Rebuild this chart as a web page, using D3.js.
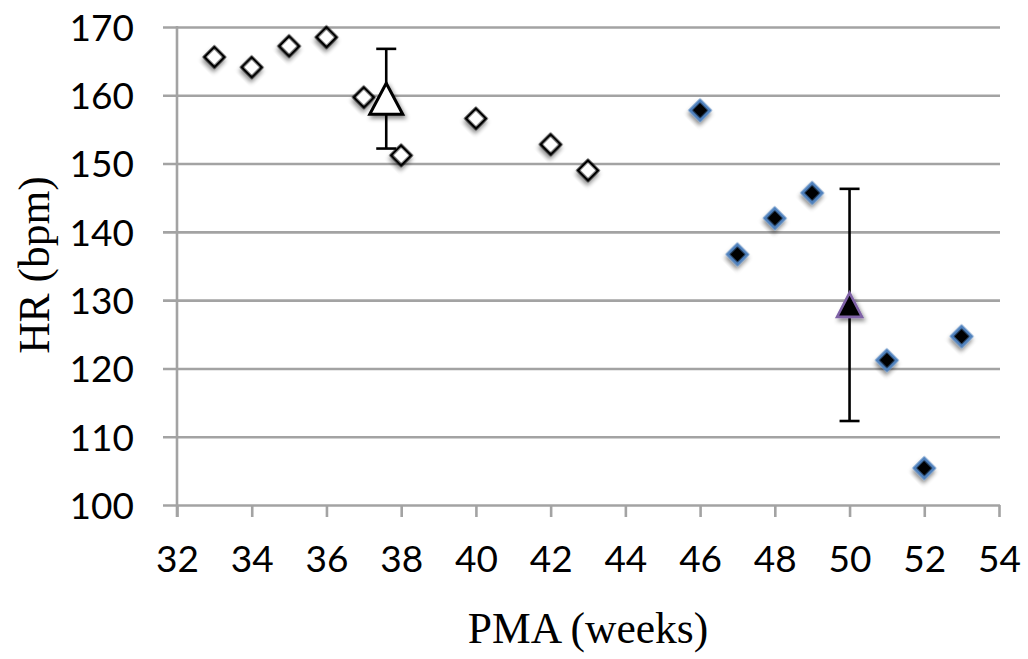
<!DOCTYPE html>
<html>
<head>
<meta charset="utf-8">
<script src="https://cdn.jsdelivr.net/npm/d3@7.9.0/dist/d3.min.js"></script>
<style>
  body { margin: 0; background: #fff; }
  svg { display: block; }
  .tick text { font-family: Lato, "Open Sans", sans-serif; font-size: 37px; fill: #000; }
  .title { font-family: "Liberation Serif", "Times New Roman", serif; font-size: 43.5px; fill: #000; }
</style>
</head>
<body>
<svg width="1028" height="659"></svg>
<script>
// data
const xTicks = [32, 34, 36, 38, 40, 42, 44, 46, 48, 50, 52, 54];
const yTicks = [100, 110, 120, 130, 140, 150, 160, 170];

// before (open diamonds)
const preX = [33, 34, 35, 36, 37, 38, 40, 42, 43];
const preHR = [165.6, 164.1, 167.2, 168.5, 159.7, 151.2, 156.6, 152.8, 149.0];
// after (filled diamonds)
const postX = [46, 47, 48, 49, 51, 52, 53];
const postHR = [157.8, 136.7, 142.0, 145.7, 121.2, 105.4, 124.7];
// group means +- sd (triangles)
const meanX = [37.6, 50];
const meanHR = [159.5, 129.3];
const meanSD = [7.3, 17.0];

const margin = { top: 27, right: 29, bottom: 154, left: 177 };
const svg = d3.select('svg');
const W = +svg.attr('width') - margin.left - margin.right;
const H = +svg.attr('height') - margin.top - margin.bottom;

const x = d3.scaleLinear().domain([32, 54]).range([0, W]);
const y = d3.scaleLinear().domain([100, 170]).range([H, 0]);

// soft shadow under markers
const defs = svg.append('defs');
defs.append('filter').attr('id', 'shadow')
  .attr('x', '-50%').attr('y', '-50%').attr('width', '200%').attr('height', '200%')
  .append('feDropShadow')
  .attr('dx', 2).attr('dy', 3).attr('stdDeviation', 2)
  .attr('flood-color', '#000').attr('flood-opacity', 0.45);

const g = svg.append('g').attr('transform', `translate(${margin.left},${margin.top})`);

// y axis + gridlines
const yAxis = g.append('g').call(d3.axisLeft(y).tickValues(yTicks).tickSize(0));
yAxis.select('.domain').remove();
yAxis.selectAll('.tick line')
  .attr('x1', -14).attr('x2', W + 1)
  .attr('stroke', '#a3a3a3').attr('stroke-width', 2.6);
yAxis.selectAll('.tick text').attr('x', -43).attr('dy', '0.36em');

// x axis
const xAxis = g.append('g').attr('transform', `translate(0,${H})`)
  .call(d3.axisBottom(x).tickValues(xTicks).tickSize(12));
xAxis.select('.domain').remove();
xAxis.selectAll('.tick line').attr('stroke', '#a3a3a3').attr('stroke-width', 2.6);
xAxis.selectAll('.tick text').attr('y', 41).attr('dy', '0.71em');

// vertical axis line
g.append('line')
  .attr('x1', 0).attr('x2', 0).attr('y1', -1).attr('y2', H + 12)
  .attr('stroke', '#a3a3a3').attr('stroke-width', 2.6);

// titles
svg.append('text').attr('class', 'title')
  .attr('x', margin.left + 411).attr('y', 643)
  .attr('text-anchor', 'middle').text('PMA (weeks)');
svg.append('text').attr('class', 'title')
  .attr('transform', 'translate(49,265) rotate(-90)')
  .attr('text-anchor', 'middle').text('HR (bpm)');

// diamonds: rotated squares
const diamond = d3.symbol().type(d3.symbolSquare).size(200)();

g.selectAll('.pre').data(preX).join('path')
  .attr('class', 'pre')
  .attr('d', diamond)
  .attr('transform', (d, i) => `translate(${x(d)},${y(preHR[i])}) rotate(45)`)
  .attr('fill', '#fff').attr('stroke', '#000').attr('stroke-width', 3)
  .attr('filter', 'url(#shadow)');

g.selectAll('.post').data(postX).join('path')
  .attr('class', 'post')
  .attr('d', diamond)
  .attr('transform', (d, i) => `translate(${x(d)},${y(postHR[i])}) rotate(45)`)
  .attr('fill', '#000').attr('stroke', '#4f81bd').attr('stroke-width', 3)
  .attr('filter', 'url(#shadow)');

// error bars
const cap = 10;
meanX.forEach((mx, i) => {
  const top = y(meanHR[i] + meanSD[i]);
  const bot = y(meanHR[i] - meanSD[i]);
  const eb = g.append('g').attr('stroke', '#000').attr('stroke-width', 2.6);
  eb.append('line').attr('x1', x(mx)).attr('x2', x(mx)).attr('y1', top).attr('y2', bot);
  eb.append('line').attr('x1', x(mx) - cap).attr('x2', x(mx) + cap).attr('y1', top).attr('y2', top);
  eb.append('line').attr('x1', x(mx) - cap).attr('x2', x(mx) + cap).attr('y1', bot).attr('y2', bot);
});

// triangles centred on their bounding box
function tri(w, h) {
  return `M0,${-h / 2}L${w / 2},${h / 2}L${-w / 2},${h / 2}Z`;
}
const triStyle = [
  { w: 33, h: 31, fill: '#fff', stroke: '#000', sw: 3 },
  { w: 25, h: 24, fill: '#000', stroke: '#7f62a6', sw: 2.6 }
];
g.selectAll('.mean').data(meanX).join('path')
  .attr('class', 'mean')
  .attr('d', (d, i) => tri(triStyle[i].w, triStyle[i].h))
  .attr('transform', (d, i) => `translate(${x(d)},${y(meanHR[i])})`)
  .attr('fill', (d, i) => triStyle[i].fill)
  .attr('stroke', (d, i) => triStyle[i].stroke)
  .attr('stroke-width', (d, i) => triStyle[i].sw)
  .attr('stroke-linejoin', 'miter')
  .attr('filter', 'url(#shadow)');
</script>
</body>
</html>
